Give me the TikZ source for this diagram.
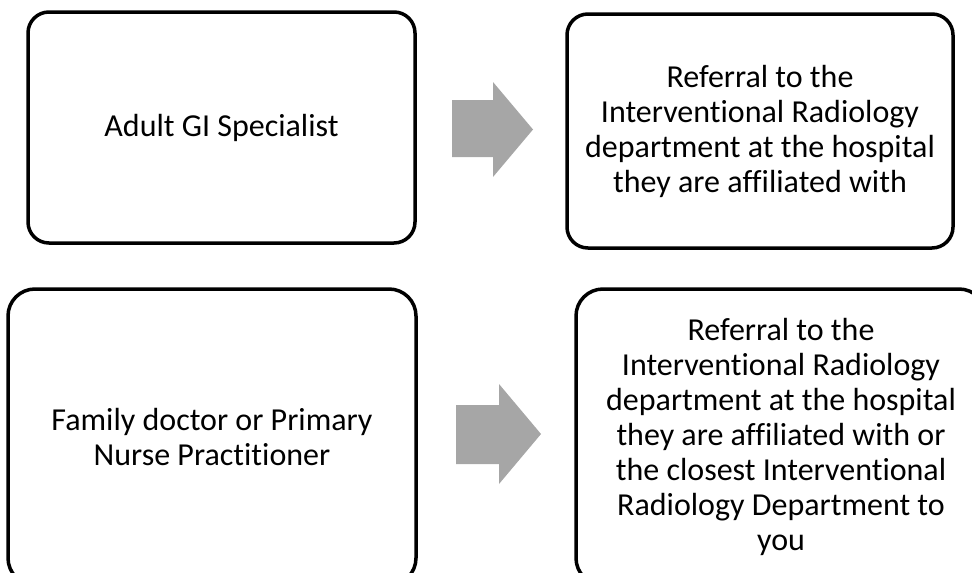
\documentclass[tikz,border=0pt]{standalone}
\usepackage{fontspec}
\setmainfont{Carlito}[Ligatures=NoCommon]
\definecolor{arrowgray}{RGB}{166,166,166}

\begin{document}
\begin{tikzpicture}[x=1pt, y=-1pt,
    step box/.style ={rectangle, draw, line width=3.5pt, align=center,
      inner sep=0pt, font=\fontsize{32}{35}\selectfont},
    block arrow/.style ={fill=arrowgray, draw=none}]
   \useasboundingbox (0,0) rectangle (972,573);
   \clip (0,0) rectangle (972,573);

   \node[step box, rounded corners=21pt, minimum width=387pt, minimum height=231pt] (gi) at (221.5,127.5)
      {Adult GI Specialist};
   \node[step box, rounded corners=21pt, minimum width=386pt, minimum height=234pt] (giref) at (760,131)
      {Referral to the\\ Interventional Radiology\\ department at the hospital\\ they are affiliated with};

   \node[step box, rounded corners=27pt, minimum width=408pt, minimum height=296pt] (fam) at (212,437)
      {Family doctor or Primary\\ Nurse Practitioner};
   \node[step box, rounded corners=27pt, minimum width=410pt, minimum height=296pt] (famref) at (781,437)
      {Referral to the\\ Interventional Radiology\\ department at the hospital\\ they are affiliated with or\\
       the closest Interventional\\ Radiology Department to\\ you};

   % block arrows between the boxes
   \fill[block arrow] (452,100) -- (493,100) -- (493,82) -- (533,129.5) -- (493,177) -- (493,157) -- (452,157) -- cycle;
   \fill[block arrow] (456,405) -- (499,405) -- (499,384) -- (541,434) -- (499,484) -- (499,464) -- (456,464) -- cycle;

 \end{tikzpicture}
\end{document}
